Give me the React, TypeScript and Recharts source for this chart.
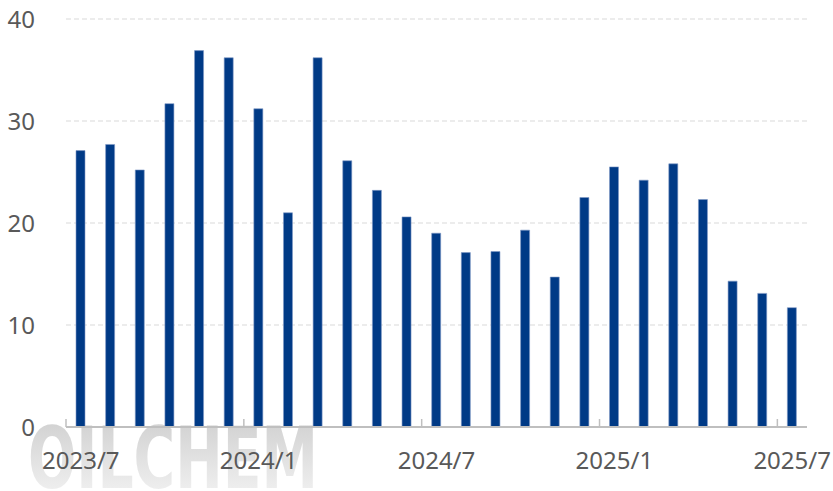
import * as React from "react";
import { Bar, BarChart, CartesianGrid, XAxis, YAxis } from "recharts";

const months = [
  "2023/7", "2023/8", "2023/9", "2023/10", "2023/11", "2023/12",
  "2024/1", "2024/2", "2024/3", "2024/4", "2024/5", "2024/6",
  "2024/7", "2024/8", "2024/9", "2024/10", "2024/11", "2024/12",
  "2025/1", "2025/2", "2025/3", "2025/4", "2025/5", "2025/6",
  "2025/7"
];

const values = [
  27.1, 27.7, 25.2, 31.7, 36.9, 36.2, 31.2, 21.0, 36.2, 26.1, 23.2, 20.6,
  19.0, 17.1, 17.2, 19.3, 14.7, 22.5, 25.5, 24.2, 25.8, 22.3, 14.3, 13.1,
  11.7
];

const yTicks = [0, 10, 20, 30, 40];

const W = 833;
const H = 491;
const PLOT_LEFT = 66;
const PLOT_RIGHT = 807;
const PLOT_TOP = 19;
const PLOT_BOTTOM = 427;
const HALF_BAND = (PLOT_RIGHT - PLOT_LEFT) / months.length / 2;

const TEXT = "#595959";
const FONT = "'Noto Sans', sans-serif";

const data = months.map((m, i) => ({ month: m, value: values[i] }));

function XTick(props: any) {
  const { x, payload } = props;
  const tx = x - HALF_BAND;
  return (
    <g>
      <line x1={tx} x2={tx} y1={PLOT_BOTTOM - 8} y2={PLOT_BOTTOM} stroke="#bfbfbf" strokeWidth={1.5} />
      <text x={x} y={469} textAnchor="middle" fill={TEXT} fontSize={24} fontFamily={FONT}>
        {payload.value}
      </text>
    </g>
  );
}

function YTick(props: any) {
  const { y, payload } = props;
  return (
    <text x={35} y={y + 8.5} textAnchor="end" fill={TEXT} fontSize={24} fontFamily={FONT}>
      {payload.value}
    </text>
  );
}

// faint site watermark behind the axis labels
function Watermark() {
  return (
    <svg width={W} height={H} style={{ position: "absolute", left: 0, top: 0 }}>
      <defs>
        <linearGradient id="wm" x1="0" y1="0" x2="0" y2="1">
          <stop offset="0%" stopColor="#cccccc" />
          <stop offset="100%" stopColor="#f6f6f6" />
        </linearGradient>
      </defs>
      <text
        x={28}
        y={488}
        textLength={290}
        lengthAdjust="spacingAndGlyphs"
        fontSize={86}
        fontWeight="bold"
        fontFamily="'DejaVu Sans', sans-serif"
        fill="url(#wm)"
      >
        OILCHEM
      </text>
    </svg>
  );
}

export default function App() {
  return (
    <div style={{ position: "absolute", left: 0, top: 0, width: W, height: H, background: "#fff" }}>
      <Watermark />
      <div style={{ position: "absolute", left: 0, top: 0 }}>
        <BarChart
          width={W}
          height={H}
          data={data}
          margin={{ top: PLOT_TOP, right: W - PLOT_RIGHT, bottom: 0, left: 0 }}
          barCategoryGap={0}
        >
          <CartesianGrid vertical={false} stroke="#d9d9d9" strokeDasharray="5 3" />
          <XAxis
            dataKey="month"
            interval={5}
            height={H - PLOT_BOTTOM}
            tickLine={false}
            axisLine={{ stroke: "#bfbfbf", strokeWidth: 2 }}
            tick={<XTick />}
          />
          <YAxis
            width={PLOT_LEFT}
            domain={[0, 40]}
            ticks={yTicks}
            axisLine={false}
            tickLine={false}
            tick={<YTick />}
          />
          <Bar dataKey="value" fill="#003a86" stroke="#7f98c6" strokeWidth={0.6} barSize={9} isAnimationActive={false} />
        </BarChart>
      </div>
    </div>
  );
}
